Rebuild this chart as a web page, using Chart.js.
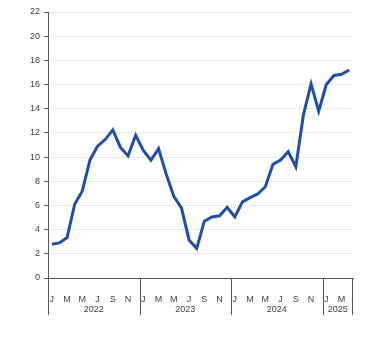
<!DOCTYPE html>
<html>
<head>
<meta charset="utf-8">
<script src="https://cdn.jsdelivr.net/npm/chart.js@4"></script>
<style>
  html, body { margin: 0; padding: 0; background: #fff; }
  #wrap { width: 369px; height: 337px; }
</style>
</head>
<body>
<div id="wrap"><canvas id="chart"></canvas></div>
<script>
// monthly series, Jan 2022 .. Apr 2025
const months = ['J','F','M','A','M','J','J','A','S','O','N','D',
                'J','F','M','A','M','J','J','A','S','O','N','D',
                'J','F','M','A','M','J','J','A','S','O','N','D',
                'J','F','M','A'];
const years = ['2022','2022','2022','2022','2022','2022','2022','2022','2022','2022','2022','2022',
               '2023','2023','2023','2023','2023','2023','2023','2023','2023','2023','2023','2023',
               '2024','2024','2024','2024','2024','2024','2024','2024','2024','2024','2024','2024',
               '2025','2025','2025','2025'];
const values = [2.8, 2.9, 3.35, 6.1, 7.2, 9.75, 10.9, 11.45, 12.25, 10.8, 10.1, 11.8,
                10.55, 9.75, 10.7, 8.6, 6.75, 5.8, 3.15, 2.45, 4.7, 5.05, 5.15, 5.85,
                5.05, 6.3, 6.65, 6.95, 7.55, 9.4, 9.75, 10.45, 9.2, 13.5, 16.05, 13.8,
                16.0, 16.75, 16.85, 17.2];
const yTicks = { min: 0, max: 22, step: 2 };

const axisColor = '#595959';
const textColor = '#404040';
const font = { family: 'Liberation Sans', size: 9 };

// year row under the month letters, with separators between years
const yearRow = {
  id: 'yearRow',
  afterDraw(chart) {
    const x = chart.scales.x, ctx = chart.ctx;
    const top = chart.chartArea.bottom, bottom = top + 37;
    const half = (x.getPixelForValue(1) - x.getPixelForValue(0)) / 2;
    const groups = [];
    years.forEach((y, i) => {
      const g = groups[groups.length - 1];
      if (g && g.year === y) g.last = i; else groups.push({ year: y, first: i, last: i });
    });
    ctx.save();
    ctx.strokeStyle = axisColor;
    ctx.lineWidth = 1;
    ctx.fillStyle = textColor;
    ctx.font = font.size + 'px ' + font.family;
    ctx.textAlign = 'center';
    ctx.textBaseline = 'middle';
    groups.forEach((g, k) => {
      const l = x.getPixelForValue(g.first) - half;
      const r = x.getPixelForValue(g.last) + half;
      ctx.beginPath();
      ctx.moveTo(Math.round(l) + 0.5, top);
      ctx.lineTo(Math.round(l) + 0.5, bottom);
      if (k === groups.length - 1) {
        ctx.moveTo(Math.round(r) - 0.5, top);
        ctx.lineTo(Math.round(r) - 0.5, bottom);
      }
      ctx.stroke();
      ctx.fillText(g.year, (l + r) / 2, top + 32);
    });
    ctx.restore();
  }
};

new Chart(document.getElementById('chart'), {
  type: 'line',
  data: {
    labels: months,
    datasets: [{
      data: values,
      borderColor: '#2150a3',
      borderWidth: 3,
      pointRadius: 0,
      tension: 0,
      fill: false
    }]
  },
  options: {
    responsive: true,
    maintainAspectRatio: false,
    animation: false,
    layout: { padding: { top: 12, right: 16, bottom: 22, left: 0 } },
    plugins: { legend: { display: false }, tooltip: { enabled: false } },
    scales: {
      x: {
        offset: true,
        grid: { display: false },
        border: { display: true, color: axisColor, width: 1 },
        ticks: {
          autoSkip: false,
          maxRotation: 0,
          padding: 8,
          color: textColor,
          font: font,
          callback: (v, i) => (i % 2 === 0 ? months[i] : '')
        },
        afterFit: s => { s.height = 37; }
      },
      y: {
        min: yTicks.min,
        max: yTicks.max,
        ticks: { stepSize: yTicks.step, color: textColor, font: font, padding: 4 },
        grid: {
          color: '#d4d4d4',
          lineWidth: 1,
          tickLength: 4,
          tickColor: axisColor,
          tickBorderDash: []
        },
        border: { display: true, color: axisColor, width: 1, dash: [1, 1] },
        afterFit: s => { s.width = 48; }
      }
    }
  },
  plugins: [yearRow]
});
</script>
</body>
</html>
